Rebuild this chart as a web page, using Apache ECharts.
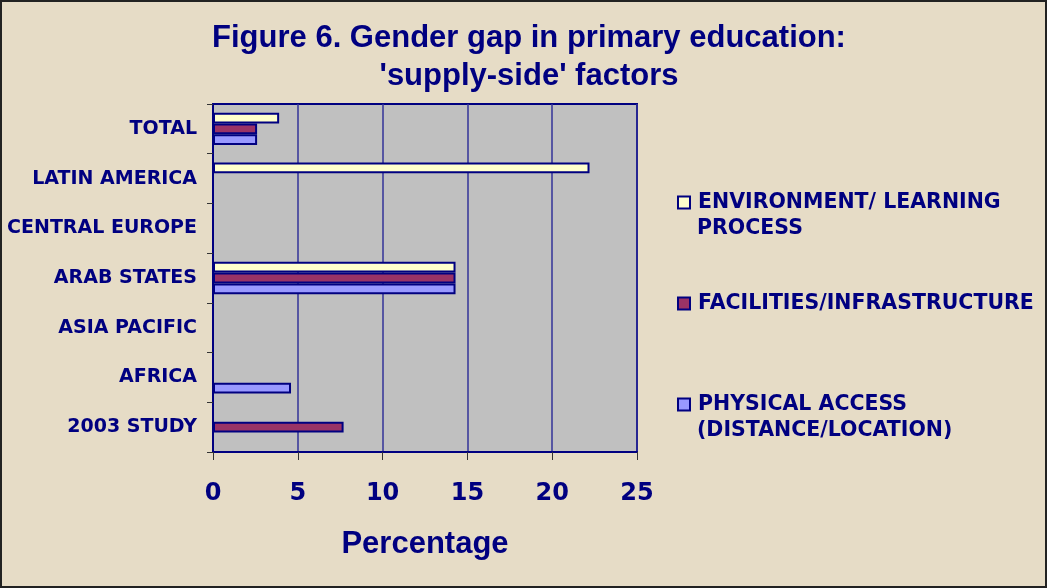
<!DOCTYPE html>
<html>
<head>
<meta charset="utf-8">
<script src="https://cdn.jsdelivr.net/npm/echarts@6/dist/echarts.min.js"></script>
<style>
html, body { margin: 0; padding: 0; background: #E6DCC5; }
#chart { width: 1047px; height: 588px; }
</style>
</head>
<body>
<div id="chart"></div>
<script>
// categories, bottom to top as on the chart
var regions = ['2003 STUDY', 'AFRICA', 'ASIA PACIFIC', 'ARAB STATES', 'CENTRAL EUROPE', 'LATIN AMERICA', 'TOTAL'];
var environment = [0, 0, 0, 14.3, 0, 22.2, 3.9];
var facilities  = [7.7, 0, 0, 14.3, 0, 0, 2.6];
var physical    = [0, 4.6, 0, 14.3, 0, 0, 2.6];
var xTicks = [0, 5, 10, 15, 20, 25];

var navy = '#000080';
var labelFont = 'Tahoma, "DejaVu Sans", sans-serif';
var titleFont = 'Arial, "Liberation Sans", sans-serif';

var myChart = echarts.init(document.getElementById('chart'));

// one legend per series so each can sit where the original puts it
function legendFor(name, label, top) {
    return {
        data: [name],
        left: 672,
        top: top,
        itemWidth: 12,
        itemHeight: 12,
        icon: 'rect',
        itemStyle: { borderColor: navy, borderWidth: 2 },
        formatter: function () { return label; },
        textStyle: {
            color: navy,
            fontFamily: labelFont,
            fontWeight: 'bold',
            fontSize: 20.5,
            padding: [0, 0, 0, 3]
        }
    };
}

function secondLine(text, top) {
    return {
        type: 'text',
        left: 697,
        top: top,
        silent: true,
        style: { text: text, fill: navy, font: 'bold 20.5px ' + labelFont }
    };
}

function barSeries(name, values, color) {
    return {
        name: name,
        type: 'bar',
        data: values,
        barGap: '0%',
        barCategoryGap: '35%',
        itemStyle: { color: color, borderColor: navy, borderWidth: 2 },
        emphasis: { disabled: true }
    };
}

var option = {
    backgroundColor: '#E6DCC6',
    animation: false,
    title: {
        text: "Figure 6. Gender gap in primary education:\n'supply-side' factors",
        left: 524,
        textAlign: 'center',
        top: 14,
        textStyle: {
            color: navy,
            fontFamily: titleFont,
            fontWeight: 'bold',
            fontSize: 31,
            lineHeight: 38
        }
    },
    legend: [
        legendFor('env', 'ENVIRONMENT/ LEARNING', 187),
        legendFor('fac', 'FACILITIES/INFRASTRUCTURE', 288),
        legendFor('phys', 'PHYSICAL ACCESS', 389)
    ],
    grid: { left: 213, right: 410, top: 104, bottom: 136, show: true, backgroundColor: '#C0C0C0', borderColor: navy, borderWidth: 2 },
    xAxis: {
        type: 'value',
        min: 0,
        max: 25,
        interval: 5,
        name: 'Percentage',
        nameLocation: 'middle',
        nameGap: 77,
        nameTextStyle: { color: navy, fontFamily: titleFont, fontWeight: 'bold', fontSize: 31 },
        axisLine: { show: true, lineStyle: { color: navy, width: 2 } },
        axisTick: { show: true, length: 8, lineStyle: { color: '#333333', width: 1 } },
        axisLabel: {
            margin: 30,
            color: navy,
            fontFamily: labelFont,
            fontWeight: 'bold',
            fontSize: 24,
            formatter: function (v) { return xTicks.indexOf(v) >= 0 ? String(v) : ''; }
        },
        splitLine: { show: true, lineStyle: { color: '#333399', width: 1.5 } }
    },
    yAxis: {
        type: 'category',
        data: regions,
        axisLine: { show: true, lineStyle: { color: navy, width: 2 } },
        axisTick: { show: true, length: 6, lineStyle: { color: '#333333', width: 1 } },
        axisLabel: {
            margin: 16,
            color: navy,
            fontFamily: labelFont,
            fontWeight: 'bold',
            fontSize: 19
        }
    },
    series: [
        barSeries('env', environment, '#FFFFCC'),
        barSeries('fac', facilities, '#993366'),
        barSeries('phys', physical, '#9999FF')
    ],
    graphic: [
        secondLine('PROCESS', 218),
        secondLine('(DISTANCE/LOCATION)', 420),
        {
            type: 'rect',
            shape: { x: 1, y: 1, width: 1045, height: 586 },
            style: { fill: null, stroke: '#222222', lineWidth: 2 },
            silent: true
        }
    ]
};

myChart.setOption(option);
</script>
</body>
</html>
